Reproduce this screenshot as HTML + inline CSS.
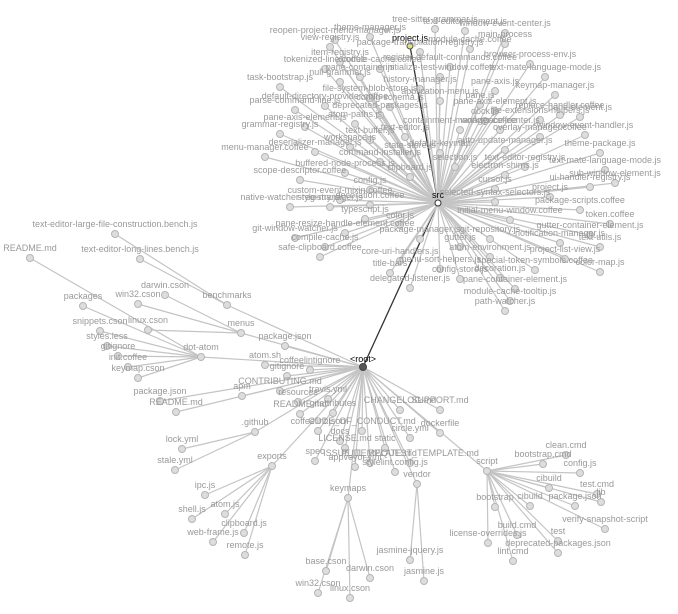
<!DOCTYPE html>
<html><head><meta charset="utf-8"><style>
html,body{margin:0;padding:0;background:#fff;width:678px;height:614px;overflow:hidden}
svg text{font-family:"Liberation Sans",sans-serif;font-size:9px;fill:#999;text-anchor:middle}
</style></head><body>
<svg id="s" width="678" height="614" xmlns="http://www.w3.org/2000/svg">
<g id="L"></g><g id="N"></g><g id="T"></g>
</svg>
<script>
var d=[
["<root>",363,367,null],
["src",438,203,"<root>"],
["project.js",410,46,"src"],
];
var S=[
["tree-sitter-grammar.js",435,22],["text-editor-element.js",465,24],["window-event-center.js",505,26],
["theme-manager.js",370,30],["reopen-project-menu-manager.js",335,33],["view-registry.js",330,40],
["package-transpilation-registry.js",420,45],["module-cache.coffee",470,42],["main-process",505,37],
["item-registry.js",340,55],["tokenized-line.coffee",325,62],["module-cache.coffee",380,62],
["register-default-commands.coffee",450,60],["browser-process-env.js",530,57],["pane-container.js",360,70],
["initialize-test-window.coffee",440,70],["text-mate-language-mode.js",545,70],["task-bootstrap.js",280,80],
["null-grammar.js",340,75],["history-manager.js",420,82],["pane-axis.js",495,84],["keymap-manager.js",555,88],
["default-directory-provider.coffee",325,99],["file-system-blob-store.js",370,91],["application-menu.js",440,94],
["pane.js",480,98],["config-schema.js",390,100],["parse-command-line.js",295,103],["deprecated-packages.js",380,108],
["pane-axis-element.js",495,104],["replace-handler.coffee",560,108],["grammar-registry.js",280,127],
["pane-axis-element.js",305,120],["atom-paths.js",355,117],["dock.js",485,114],["file-extensions-helpers.js",540,113],
["pane-element.js",580,110],["text-buffer.js",370,133],["text-editor.js",405,130],["containment-manager.coffee",460,123],
["overlay-manager.coffee",540,130],["workspace-center.js",500,123],["window-event-handler.js",585,128],
["menu-manager.coffee",265,150],["deserializer-manager.js",315,145],["workspace.js",350,140],
["command-installer.js",380,155],["state-store.js",410,148],["default-keymap",440,146],["auto-update-manager.js",505,143],
["theme-package.js",600,146],["selection.js",455,160],["buffered-node-process.js",345,166],["clipboard.js",410,170],
["scope-descriptor.coffee",300,173],["electron-shims.js",505,168],["text-editor-registry.js",525,160],
["text-mate-language-mode.js",605,163],["sub-window-element.js",615,176],["config.js",370,183],["cursor.js",495,182],
["custom-event-mixin.coffee",340,193],["project.js",550,190],["ui-handler-registry.js",590,180],
["native-watcher-registry.js",290,200],["style-manager.js",330,200],["decoration.coffee",370,198],
["selected-syntax-selectors.js",495,195],["package-scripts.coffee",580,203],["typescript.js",365,212],
["color.js",400,218],["pane-resize-handle-element.coffee",345,226],["git-window-watcher.js",295,231],
["initial-menu-window.coffee",510,213],["token.coffee",610,217],["gutter-container-element.js",590,228],
["package-manager.js",420,232],["git-repository.js",490,232],["text-utils.js",600,240],["compile-cache.js",325,240],
["gutter.js",460,240],["notification-manager.js",560,236],["safe-clipboard.coffee",320,250],
["core-uri-handlers.js",400,254],["atom-environment.js",490,250],["project-list-view.js",565,252],
["title-bars",390,266],["menu-sort-helpers.js",440,262],["special-token-symbols.coffee",535,263],
["color-map.js",600,265],["config-store.js",460,272],["decoration.js",500,271],["delegated-listener.js",410,281],
["pane-container-element.js",515,282],["module-cache-tooltip.js",510,294],["path-watcher.js",505,304]
];
S.forEach(function(a){d.push([a[0],a[1],a[2],"src"]);});
var R=[
["package.json",285,339,"<root>"],["atom.sh",265,358,"<root>"],["coffeelintignore",310,363,"<root>"],
["gitignore",287,369,"<root>"],["CONTRIBUTING.md",280,384,"<root>"],["apm",242,389,"<root>"],
["travis.yml",328,392,"<root>"],["resources",298,395,"<root>"],["README.md",300,407,"<root>"],
["gitattributes",333,406,"<root>"],["CHANGELOG.md",400,403,"<root>"],["SUPPORT.md",440,403,"<root>"],
["coffeelint.json",318,424,"<root>"],["CODE_OF_CONDUCT.md",362,424,"<root>"],["dockerfile",440,426,"<root>"],
["docs",340,434,"<root>"],["circle.yml",410,431,"<root>"],["LICENSE.md",345,441,"<root>"],["static",385,441,"<root>"],
["spec",315,454,"<root>"],["ISSUE_TEMPLATE.md",370,456,"<root>"],["PULL_REQUEST_TEMPLATE.md",410,456,"<root>"],
["appveyor.yml",355,460,"<root>"],["stylelint.config.js",395,465,"<root>"],["vendor",417,477,"<root>"],
["benchmarks",227,298,"<root>"],["menus",241,326,"<root>"],["dot-atom",201,350,"<root>"],
["package.json",160,394,"<root>"],["README.md",176,405,"<root>"],[".github",255,425,"<root>"],
["exports",272,459,"<root>"],["keymaps",348,491,"<root>"],["script",487,464,"<root>"],
["text-editor-large-file-construction.bench.js",115,227,"benchmarks"],["text-editor-long-lines.bench.js",140,252,"benchmarks"],
["darwin.cson",165,288,"menus"],["win32.cson",138,297,"menus"],["linux.cson",148,323,"menus"],
["README.md",30,251,"dot-atom"],["packages",83,299,"dot-atom"],["snippets.cson",100,324,"dot-atom"],
["styles.less",107,339,"dot-atom"],["gitignore",118,349,"dot-atom"],["init.coffee",128,360,"dot-atom"],["keymap.cson",138,371,"dot-atom"],
["lock.yml",182,442,".github"],["stale.yml",175,463,".github"],
["ipc.js",205,488,"exports"],["shell.js",192,512,"exports"],["atom.js",225,507,"exports"],["clipboard.js",244,526,"exports"],
["web-frame.js",213,535,"exports"],["remote.js",245,548,"exports"],
["base.cson",326,564,"keymaps"],["darwin.cson",370,571,"keymaps"],["win32.cson",318,586,"keymaps"],["linux.cson",350,591,"keymaps"],
["jasmine-jquery.js",410,553,"vendor"],["jasmine.js",424,574,"vendor"],
["clean.cmd",566,448,"script"],["bootstrap.cmd",543,457,"script"],["config.js",580,466,"script"],["cibuild",549,481,"script"],
["test.cmd",597,487,"script"],["lib",601,495,"script"],["package.json",575,499,"script"],["bootstrap",495,500,"script"],
["cibuild",530,499,"script"],["build.cmd",517,528,"script"],["verify-snapshot-script",605,522,"script"],
["license-overrides.js",488,536,"script"],["test",558,534,"script"],["deprecated-packages.json",558,546,"script"],["lint.cmd",513,554,"script"]
];
d=d.concat(R);
var pos={},ns="http://www.w3.org/2000/svg";
function el(t,a,p){var e=document.createElementNS(ns,t);for(var k in a)e.setAttribute(k,a[k]);document.getElementById(p).appendChild(e);return e;}
d.forEach(function(a){var nx=a[1],ny=a[2]+7;if(a[0]=="<root>"){nx=363;ny=367;}if(a[0]=="src"&&a[3]=="<root>"){nx=438;ny=203;}
 if(a[0]=="project.js"&&a[1]==410){nx=410;ny=46;}
 a.nx=nx;a.ny=ny;if(!pos[a[0]]||["benchmarks","menus","dot-atom",".github","exports","keymaps","script","vendor"].indexOf(a[0])>=0&&a[3]=="<root>")pos[a[0]]=a;});
d.forEach(function(a){
 if(a[3]){var p=pos[a[3]];var dark=(a[0]=="src"&&a[3]=="<root>")||(a[0]=="project.js"&&a[1]==410);
  el("line",{x1:p.nx,y1:p.ny,x2:a.nx,y2:a.ny,stroke:dark?"#333":"#c4c4c4","stroke-width":dark?1.3:1.2},"L");}
 var f="#ddd",st="#b5b5b5",r=3.5;
 if(a[0]=="<root>"){f="#555";st="#444";r=3.5;}
 else if(a[0]=="src"&&a[3]=="<root>"){f="#fff";st="#333";r=3;}
 else if(a[0]=="project.js"&&a[1]==410){f="#e5e56a";st="#555";r=3;}
 el("circle",{cx:a.nx,cy:a.ny,r:r,fill:f,stroke:st,"stroke-width":1},"N");
 var dk=(a[0]=="<root>"||(a[0]=="src"&&a[3]=="<root>")||(a[0]=="project.js"&&a[1]==410));
 var t=el("text",{x:a[1],y:dk?a.ny-5:a[2]},"T");t.textContent=a[0];if(dk)t.setAttribute("style","fill:#000");
});
</script>
</body></html>
